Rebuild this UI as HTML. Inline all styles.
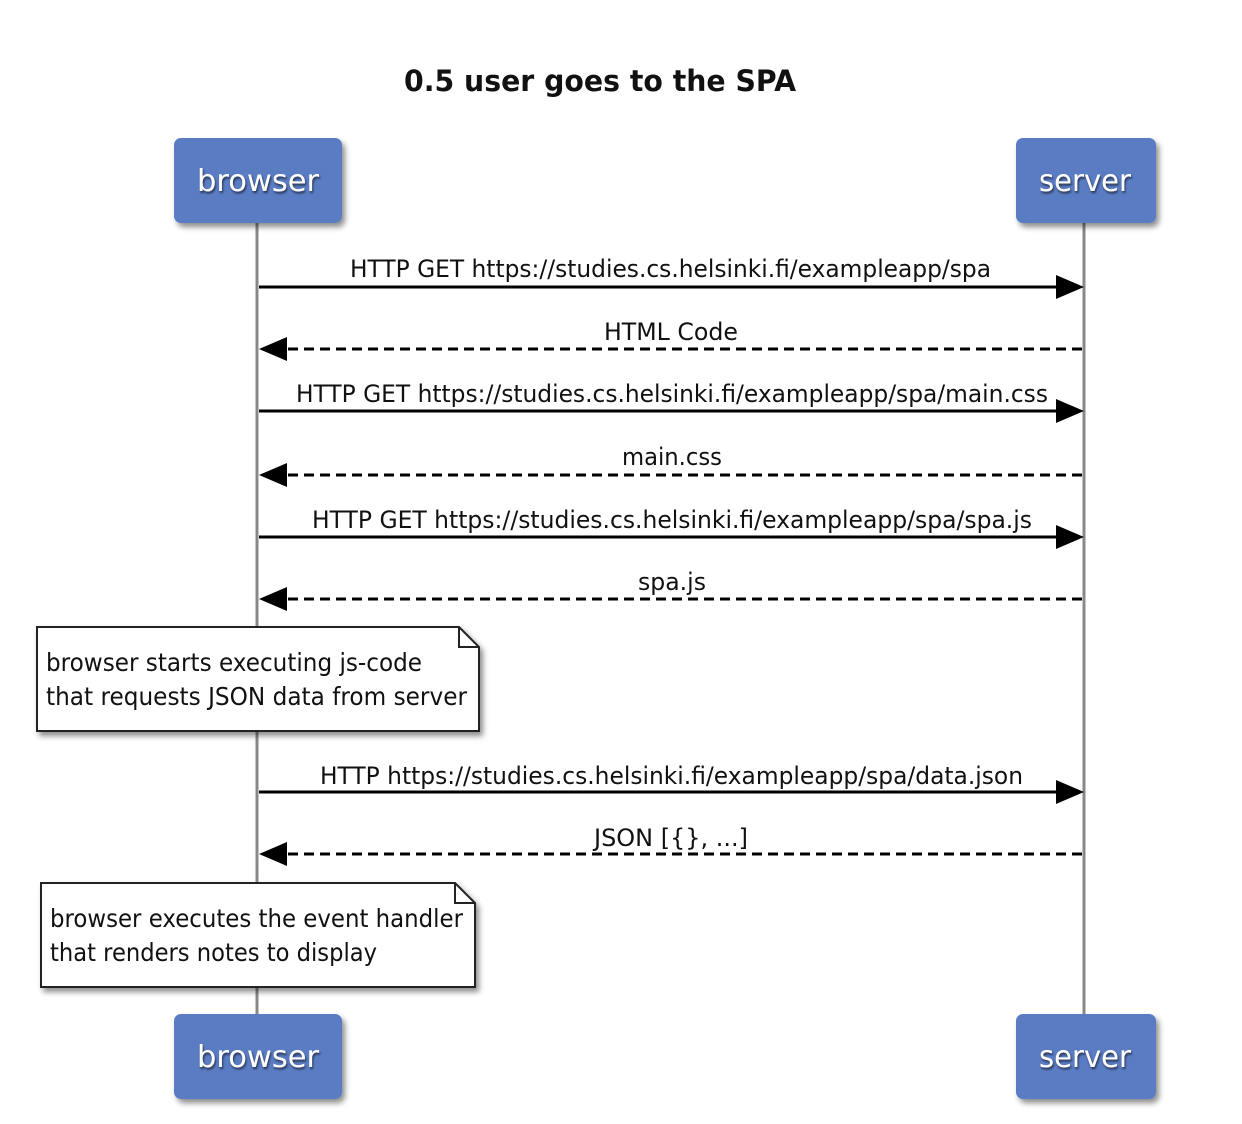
<!DOCTYPE html>
<html><head><meta charset="utf-8"><style>
html,body{margin:0;padding:0;background:#fff;width:1242px;height:1124px;overflow:hidden}
svg{display:block}
text{font-family:"DejaVu Sans","Liberation Sans",sans-serif}
</style></head><body>
<svg width="1242" height="1124" viewBox="0 0 1242 1124" xmlns="http://www.w3.org/2000/svg">
<defs>
<filter id="sh" x="-10%" y="-10%" width="130%" height="140%"><feDropShadow dx="3" dy="4" stdDeviation="3" flood-color="#000" flood-opacity="0.45"/></filter>
<filter id="ts" x="-10%" y="-20%" width="130%" height="150%"><feDropShadow dx="1" dy="2" stdDeviation="1" flood-color="#000" flood-opacity="0.6"/></filter>
</defs>
<text x="600" y="91" text-anchor="middle" font-size="29" font-weight="bold" fill="#111" textLength="392" lengthAdjust="spacingAndGlyphs">0.5  user goes to the SPA</text>

<line x1="257" y1="222" x2="257" y2="1016" stroke="#888" stroke-width="3"/>
<line x1="1084" y1="222" x2="1084" y2="1016" stroke="#888" stroke-width="3"/>

<g filter="url(#sh)">
<rect x="174" y="138" width="168" height="85" rx="7" fill="#5a7bc3"/>
<rect x="1016" y="138" width="140" height="85" rx="7" fill="#5a7bc3"/>
<rect x="174" y="1014" width="168" height="85" rx="7" fill="#5a7bc3"/>
<rect x="1016" y="1014" width="140" height="85" rx="7" fill="#5a7bc3"/>
</g>
<g fill="#fff" font-size="30" text-anchor="middle" filter="url(#ts)">
<text x="258" y="191" textLength="122" lengthAdjust="spacingAndGlyphs">browser</text>
<text x="1085" y="191" textLength="92" lengthAdjust="spacingAndGlyphs">server</text>
<text x="258" y="1067" textLength="122" lengthAdjust="spacingAndGlyphs">browser</text>
<text x="1085" y="1067" textLength="92" lengthAdjust="spacingAndGlyphs">server</text>
</g>

<g stroke="#000" stroke-width="3">
<line x1="259" y1="287" x2="1058" y2="287"/>
<line x1="288" y1="349" x2="1083" y2="349" stroke-dasharray="10,6"/>
<line x1="259" y1="411" x2="1058" y2="411"/>
<line x1="288" y1="475" x2="1083" y2="475" stroke-dasharray="10,6"/>
<line x1="259" y1="537" x2="1058" y2="537"/>
<line x1="288" y1="599" x2="1083" y2="599" stroke-dasharray="10,6"/>
<line x1="259" y1="792" x2="1058" y2="792"/>
<line x1="288" y1="854" x2="1083" y2="854" stroke-dasharray="10,6"/>
</g>
<g fill="#000">
<polygon points="1056,275 1084,287 1056,299"/>
<polygon points="287,337 259,349 287,361"/>
<polygon points="1056,399 1084,411 1056,423"/>
<polygon points="287,463 259,475 287,487"/>
<polygon points="1056,525 1084,537 1056,549"/>
<polygon points="287,587 259,599 287,611"/>
<polygon points="1056,780 1084,792 1056,804"/>
<polygon points="287,842 259,854 287,866"/>
</g>
<g font-size="24" fill="#111" lengthAdjust="spacingAndGlyphs">
<text x="350" y="277" textLength="641" lengthAdjust="spacingAndGlyphs">HTTP GET https://studies.cs.helsinki.fi/exampleapp/spa</text>
<text x="604" y="340" textLength="134" lengthAdjust="spacingAndGlyphs">HTML Code</text>
<text x="296" y="402" textLength="752" lengthAdjust="spacingAndGlyphs">HTTP GET https://studies.cs.helsinki.fi/exampleapp/spa/main.css</text>
<text x="622" y="465" textLength="100" lengthAdjust="spacingAndGlyphs">main.css</text>
<text x="312" y="528" textLength="720" lengthAdjust="spacingAndGlyphs">HTTP GET https://studies.cs.helsinki.fi/exampleapp/spa/spa.js</text>
<text x="638" y="590" textLength="68" lengthAdjust="spacingAndGlyphs">spa.js</text>
<text x="320" y="784" textLength="703" lengthAdjust="spacingAndGlyphs">HTTP https://studies.cs.helsinki.fi/exampleapp/spa/data.json</text>
<text x="594" y="846" textLength="154" lengthAdjust="spacingAndGlyphs">JSON [{}, ...]</text>
</g>

<g filter="url(#sh)" stroke="#222" stroke-width="2" fill="#fff">
<path d="M37,627 L459,627 L479,647 L479,731 L37,731 Z"/>
<path d="M41,883 L455,883 L475,903 L475,987 L41,987 Z"/>
</g>
<g fill="none" stroke="#222" stroke-width="2">
<path d="M459,627 L459,647 L479,647"/>
<path d="M455,883 L455,903 L475,903"/>
</g>
<g font-size="25" fill="#111">
<text x="46" y="671" textLength="376" lengthAdjust="spacingAndGlyphs">browser starts executing js-code</text>
<text x="46" y="705" textLength="421" lengthAdjust="spacingAndGlyphs">that requests JSON data from server</text>
<text x="50" y="927" textLength="413" lengthAdjust="spacingAndGlyphs">browser executes the event handler</text>
<text x="50" y="961" textLength="327" lengthAdjust="spacingAndGlyphs">that renders notes to display</text>
</g>
</svg>
</body></html>
